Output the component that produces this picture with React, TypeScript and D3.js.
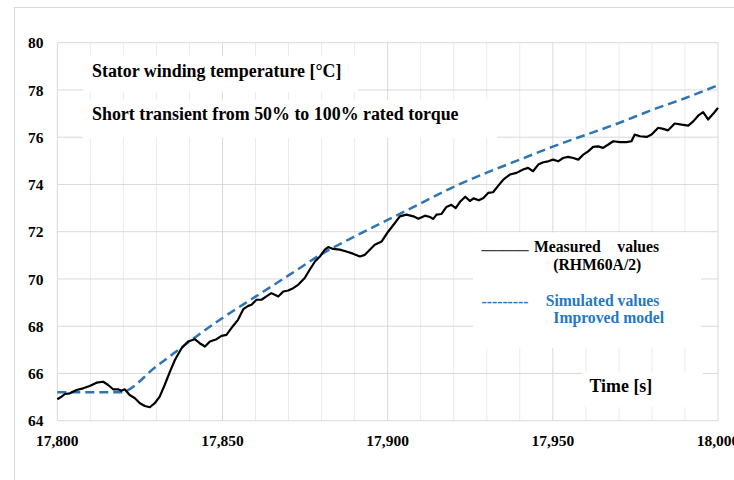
import React from 'react';
import * as d3 from 'd3';

// measured stator winding temperature (RHM60A/2)
const measTime = [
  17800, 17801.3, 17802.3, 17803.8, 17805.8, 17807.8, 17809.8, 17811.9, 17813.9, 17815.4,
  17816.9, 17818.4, 17819.4, 17820.4, 17821.9, 17823.5, 17825, 17826.5, 17828, 17829.5,
  17831, 17832.5, 17834.1, 17835.6, 17837.6, 17839.6, 17841.6, 17843.1, 17844.7, 17846.2,
  17848.2, 17849.7, 17851.2, 17853.2, 17854.7, 17856.3, 17857.8, 17858.8, 17860.3, 17861.8,
  17863.3, 17864.8, 17866.9, 17868.4, 17869.9, 17871.4, 17872.9, 17874.9, 17876.4, 17878,
  17879.5, 17881, 17882, 17883.5, 17885.5, 17887.5, 17889.5, 17891.6, 17893.1, 17894.6,
  17896.1, 17898.2, 17900.2, 17902.2, 17903.7, 17905.7, 17907.8, 17909.3, 17911.3, 17912.8,
  17913.8, 17914.8, 17916.3, 17917.8, 17919.3, 17920.6, 17922, 17923.5, 17924.9, 17926,
  17927.6, 17929, 17930.4, 17931.9, 17933.5, 17935, 17937, 17939, 17941, 17942.5,
  17944, 17945.6, 17947.1, 17948.6, 17950.1, 17951.6, 17953.1, 17954.6, 17956.2, 17957.7,
  17959.2, 17960.7, 17962.2, 17963.7, 17965.2, 17966.8, 17968.3, 17970.3, 17972.3, 17973.8,
  17974.8, 17976.4, 17978.4, 17979.9, 17981.9, 17983.4, 17984.9, 17986.9, 17989, 17991,
  17992.5, 17994, 17995.5, 17997, 17998.6, 17999.6, 18000,
];
const measured = [
  64.91, 65.02, 65.13, 65.16, 65.3, 65.37, 65.47, 65.61, 65.65, 65.51,
  65.33, 65.33, 65.27, 65.33, 65.09, 64.95, 64.74, 64.62, 64.57, 64.74,
  65.02, 65.51, 66.08, 66.57, 67.07, 67.35, 67.45, 67.28, 67.14, 67.35,
  67.45, 67.59, 67.63, 68.01, 68.27, 68.72, 68.86, 68.91, 69.12, 69.12,
  69.26, 69.4, 69.26, 69.47, 69.51, 69.61, 69.75, 70.04, 70.39, 70.74,
  70.95, 71.24, 71.35, 71.27, 71.24, 71.16, 71.07, 70.95, 71.02, 71.24,
  71.45, 71.59, 72.01, 72.37, 72.65, 72.72, 72.65, 72.55, 72.68, 72.62,
  72.54, 72.72, 72.75, 73.05, 73.14, 73.0, 73.28, 73.48, 73.3, 73.41,
  73.33, 73.43, 73.64, 73.67, 73.95, 74.2, 74.42, 74.49, 74.63, 74.7,
  74.56, 74.84, 74.94, 74.98, 75.05, 74.98, 75.12, 75.17, 75.12, 75.05,
  75.26, 75.4, 75.59, 75.61, 75.55, 75.69, 75.83, 75.79, 75.79, 75.83,
  76.11, 76.04, 76.01, 76.11, 76.4, 76.35, 76.29, 76.58, 76.53, 76.49,
  76.67, 76.91, 77.06, 76.75, 77.0, 77.17, 77.24,
];

// simulated values, improved model
const simTime = [
  17800, 17819, 17830, 17840, 17850, 17860, 17870, 17880, 17890, 17900,
  17910, 17920, 17930, 17940, 17950, 17960, 17970, 17980, 17990, 18000,
];
const simulated = [
  65.2, 65.2, 66.3, 67.35, 68.35, 69.25, 70.15, 71.05, 71.8, 72.5,
  73.2, 73.9, 74.5, 75.05, 75.6, 76.1, 76.6, 77.15, 77.65, 78.2,
];

const xTicks = [17800, 17850, 17900, 17950, 18000];
const yTicks = [64, 66, 68, 70, 72, 74, 76, 78, 80];

const serif = '"Liberation Serif", "Times New Roman", serif';
const blue = '#2e75b6';

export default function App() {
  const x = d3.scaleLinear().domain([17800, 18000]).range([57.3, 718]);
  const y = d3.scaleLinear().domain([64, 80]).range([420.7, 42.7]);

  const measPts: [number, number][] = measTime.map((t, i) => [t, measured[i]]);
  const simPts: [number, number][] = simTime.map((t, i) => [t, simulated[i]]);

  const measLine = d3.line<[number, number]>().x(d => x(d[0])).y(d => y(d[1]));
  const simLine = d3
    .line<[number, number]>()
    .x(d => x(d[0]))
    .y(d => y(d[1]))
    .curve(d3.curveMonotoneX);

  const minorX = d3.range(17810, 18000, 10).filter(v => v % 50 !== 0);

  return (
    <svg
      width={734}
      height={480}
      style={{ position: 'absolute', left: 0, top: 0, background: '#fff' }}
      fontFamily={serif}
      fontWeight="bold"
    >
      <rect x={14.5} y={7.5} width={740} height={500} fill="#fff" stroke="#d9d9d9" />

      {/* grid */}
      {minorX.map(v => (
        <line key={'mx' + v} x1={x(v)} x2={x(v)} y1={y(80)} y2={y(64)} stroke="#ebebeb" />
      ))}
      {xTicks.map(v => (
        <line key={'gx' + v} x1={x(v)} x2={x(v)} y1={y(80)} y2={y(64)} stroke="#d9d9d9" />
      ))}
      {yTicks.map(v => (
        <line key={'gy' + v} x1={x(17800)} x2={x(18000)} y1={y(v)} y2={y(v)} stroke="#d9d9d9" />
      ))}

      {/* text boxes with white fill */}
      <rect x={83} y={56} width={275} height={36} fill="#fff" />
      <rect x={83} y={100} width={414} height={38} fill="#fff" />
      <rect x={473} y={232.5} width={228} height={115.5} fill="#fff" />
      <rect x={582} y={372} width={121} height={35} fill="#fff" />

      {/* series */}
      <path d={simLine(simPts) || ''} fill="none" stroke={blue} strokeWidth={2.5} strokeDasharray="9,5" />
      <path d={measLine(measPts) || ''} fill="none" stroke="#000" strokeWidth={2.2} strokeLinejoin="round" />

      {/* axes labels */}
      {yTicks.map(v => (
        <text key={'ty' + v} x={43.5} y={y(v)} dy="0.36em" textAnchor="end" fontSize={15.5} fill="#000">
          {v}
        </text>
      ))}
      {xTicks.map(v => (
        <text key={'tx' + v} x={x(v)} y={445.5} textAnchor="middle" fontSize={15.5} fill="#000">
          {d3.format(',')(v)}
        </text>
      ))}

      <text x={92} y={76.5} fontSize={17.9} fill="#000">Stator winding temperature [°C]</text>
      <text x={92} y={119.5} fontSize={17.9} fill="#000">Short transient from 50% to 100% rated torque</text>
      <text x={589.5} y={391.5} fontSize={17.9} fill="#000">Time [s]</text>

      {/* legend */}
      <text x={481.5} y={249} fontSize={15.7} fill="#404040">______</text>
      <text x={534} y={251.7} fontSize={15.7} fill="#000">Measured</text>
      <text x={617.3} y={251.7} fontSize={15.7} fill="#000">values</text>
      <text x={553.3} y={270} fontSize={15.7} fill="#000">(RHM60A/2)</text>
      <text x={481.5} y={307} fontSize={15.7} fill={blue}>---------</text>
      <text x={545.7} y={306} fontSize={15.7} fill="#1f78c8">Simulated values</text>
      <text x={553.3} y={323.3} fontSize={15.7} fill="#1f78c8">Improved model</text>
    </svg>
  );
}
